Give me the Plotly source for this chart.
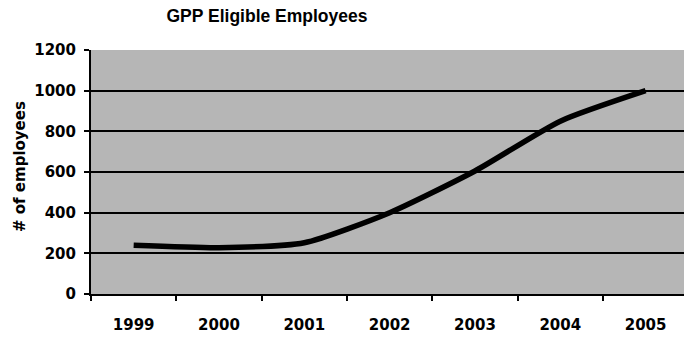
import plotly.graph_objects as go

years = ["1999", "2000", "2001", "2002", "2003", "2004", "2005"]
employees = [240, 228, 252, 400, 605, 850, 1000]
y_ticks = [0, 200, 400, 600, 800, 1000, 1200]

W, H = 684, 338
ml, mr, mt, mb = 91, 0, 50, 44
FONT = "DejaVu Sans"

fig = go.Figure()
fig.add_trace(go.Scatter(
    x=years, y=employees, mode="lines",
    line=dict(color="black", width=5.5, shape="spline", smoothing=0.6),
    showlegend=False, hoverinfo="skip",
))

fig.update_layout(
    width=W, height=H,
    margin=dict(l=ml, r=mr, t=mt, b=mb, pad=0),
    paper_bgcolor="white",
    plot_bgcolor="#b6b6b6",
    title=dict(text="<b>GPP Eligible Employees</b>", x=267 / W, xanchor="center",
               y=1 - 16 / H, yanchor="middle",
               font=dict(family="Liberation Sans", size=17.5, color="black")),
    font=dict(family=FONT, color="black"),
)

fig.update_xaxes(
    type="category", range=[-0.5, 6.45],
    showgrid=False, showline=True, linecolor="black", linewidth=2,
    ticks="outside", ticklen=5, tickcolor="black", tickwidth=1.5,
    tickson="boundaries",
    tickfont=dict(family=FONT, size=15, color="black", weight="bold"),
    ticklabelstandoff=16,
)
fig.update_yaxes(
    range=[0, 1200], tickvals=y_ticks, ticktext=[str(v) for v in y_ticks],
    showgrid=True, gridcolor="black", gridwidth=1.5,
    zeroline=False,
    showline=True, linecolor="black", linewidth=2,
    ticks="outside", ticklen=5, tickcolor="black", tickwidth=1.5,
    tickfont=dict(family=FONT, size=15, color="black", weight="bold"),
    ticklabelstandoff=5,
)

pw = W - ml - mr
fig.add_annotation(
    text="<b># of employees</b>", textangle=-90,
    xref="paper", yref="paper",
    x=(20 - ml) / pw, y=(H - mb - 167) / (H - mt - mb),
    xanchor="center", yanchor="middle", showarrow=False,
    font=dict(family=FONT, size=15, color="black"),
)

fig.write_html("out.html")
